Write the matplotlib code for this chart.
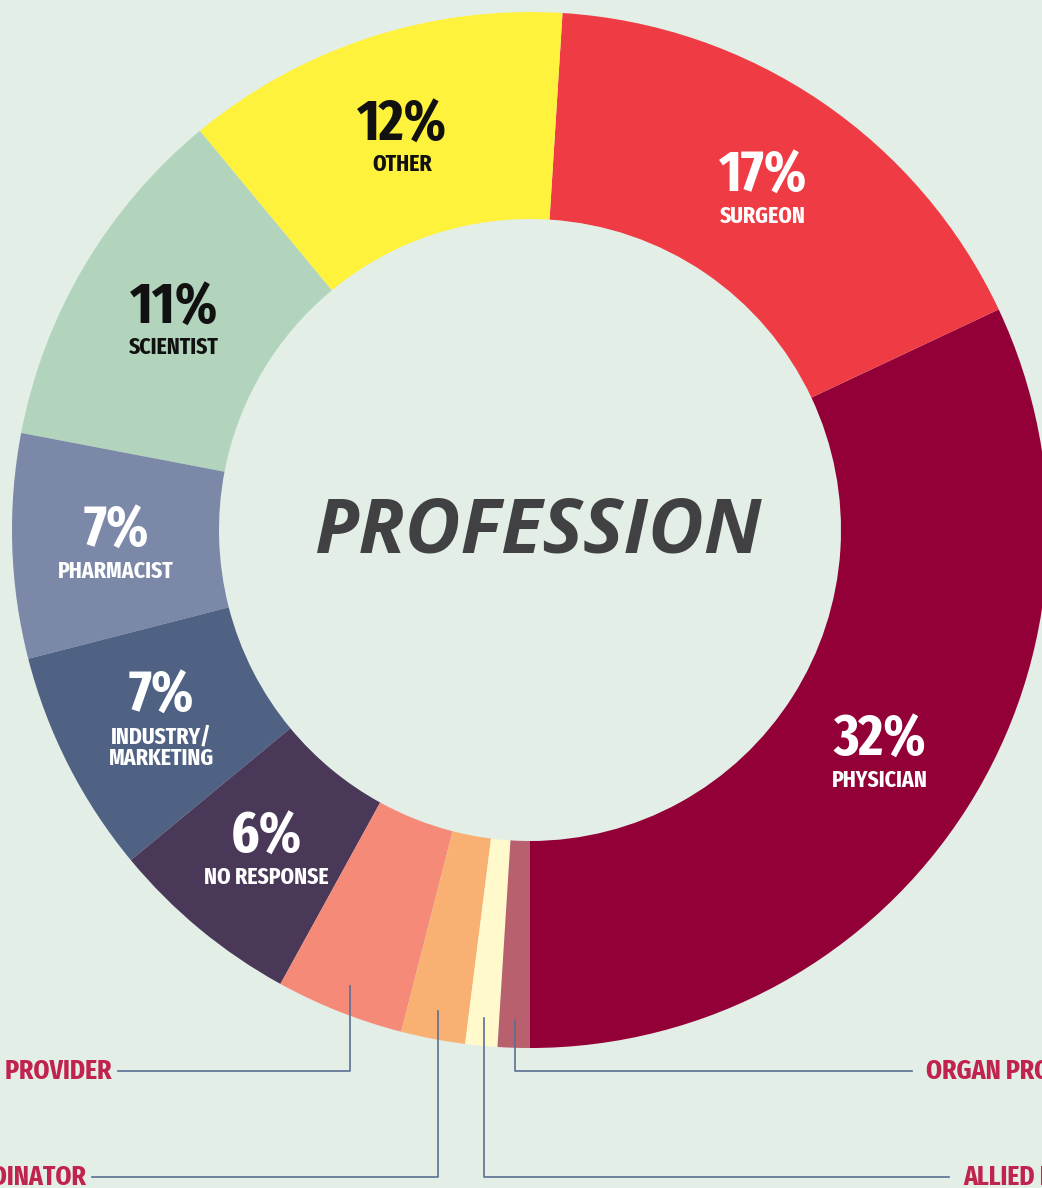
import numpy as np
import matplotlib
matplotlib.use("Agg")
import matplotlib.pyplot as plt
from matplotlib import font_manager as fm

# ---- data ----
categories = ["PHYSICIAN", "SURGEON", "OTHER", "SCIENTIST", "PHARMACIST",
              "INDUSTRY/\nMARKETING", "NO RESPONSE", "ADVANCED PRACTICE PROVIDER",
              "TRANSPLANT COORDINATOR", "ALLIED HEALTH", "ORGAN PROCUREMENT"]
values = [32, 17, 12, 11, 7, 7, 6, 4, 2, 1, 1]
colors = ["#930037", "#EF3B43", "#FFF23D", "#B2D4BC", "#7B88A8", "#4F6283",
          "#4A3858", "#F58A78", "#F9B073", "#FFF9CC", "#B8606D"]
inside_text_colors = ["white", "white", "#111111", "#111111", "white", "white", "white"]
n_inside = 7
callout_side = {7: "left", 8: "left", 9: "right", 10: "right"}
callout_level = {7: 0, 8: 1, 9: 1, 10: 0}

BG = "#E3EEE6"
W, H = 1042, 1188

# find a condensed font if one is installed
def find_condensed():
    best = None
    for f in fm.fontManager.ttflist:
        nm = f.name.lower()
        st = str(f.stretch).lower()
        fn = f.fname.lower().replace("-", "").replace("_", "")
        cond = ("condensed" in nm or "narrow" in nm or
                st in ("condensed", "semi-condensed", "extra-condensed",
                       "ultra-condensed") or "condensed" in fn)
        if not cond or f.style != "normal":
            continue
        w = f.weight if isinstance(f.weight, int) else 400
        score = -abs(w - 650)
        if "extracondensed" in fn:
            score += 50
        if "semicondensed" in fn:
            score -= 30
        if best is None or score > best[0]:
            best = (score, f.fname)
    return best[1] if best else None

cfile = find_condensed()
if cfile:
    def nfont(size):
        return dict(fontproperties=fm.FontProperties(fname=cfile, size=size))
else:
    def nfont(size):
        return dict(fontsize=size * 0.8, fontweight="bold", family="DejaVu Sans")

fig = plt.figure(figsize=(W / 100, H / 100), dpi=100, facecolor=BG)
ax = fig.add_axes([0, 0, 1, 1])
ax.set_facecolor(BG)
ax.axis("off")

cx, cy = 530, H - 530
R_out, R_in = 518, 311
wedges, _ = ax.pie(values, colors=colors, startangle=-90, counterclock=True,
                   radius=R_out, center=(cx, cy),
                   wedgeprops=dict(width=R_out - R_in, linewidth=0))
ax.set_xlim(0, W)
ax.set_ylim(0, H)
ax.set_aspect("equal")

ax.text(cx + 8, cy - 3, "PROFESSION", ha="center", va="center",
        fontsize=55, fontweight="bold", fontstyle="italic",
        family=["Open Sans", "DejaVu Sans"], color="#414042")

r_lab = 414
for i in range(n_inside):
    w = wedges[i]
    mid = np.deg2rad((w.theta1 + w.theta2) / 2)
    x = cx + r_lab * np.cos(mid)
    y = cy + r_lab * np.sin(mid)
    col = inside_text_colors[i]
    name = categories[i]
    nl = name.count("\n")
    y += nl * 10
    ax.text(x, y - 4, f"{values[i]}%", ha="center", va="baseline",
            color=col, **nfont(42))
    ax.text(x, y - 17, name, ha="center", va="top",
            color=col, linespacing=0.95, **nfont(17))

level_y = [H - 1071, H - 1177]
line_col = "#5A6E94"
label_col = "#C1234F"
r_anchor = 490
for i, side in callout_side.items():
    w = wedges[i]
    mid = np.deg2rad((w.theta1 + w.theta2) / 2)
    ax_x = cx + r_anchor * np.cos(mid)
    ax_y = cy + r_anchor * np.sin(mid)
    ly = level_y[callout_level[i]]
    if side == "left":
        end_x = 118 if callout_level[i] == 0 else 92
        ax.plot([ax_x, ax_x, end_x], [ax_y, ly, ly], color=line_col, lw=1.2)
        ax.text(end_x - 6, ly, categories[i], ha="right", va="center",
                color=label_col, **nfont(20))
    else:
        end_x = 912 if callout_level[i] == 0 else 949
        ax.plot([ax_x, ax_x, end_x], [ax_y, ly, ly], color=line_col, lw=1.2)
        ax.text(end_x + 14, ly, categories[i], ha="left", va="center",
                color=label_col, **nfont(20))

fig.savefig("out.png", dpi=100, facecolor=BG)
